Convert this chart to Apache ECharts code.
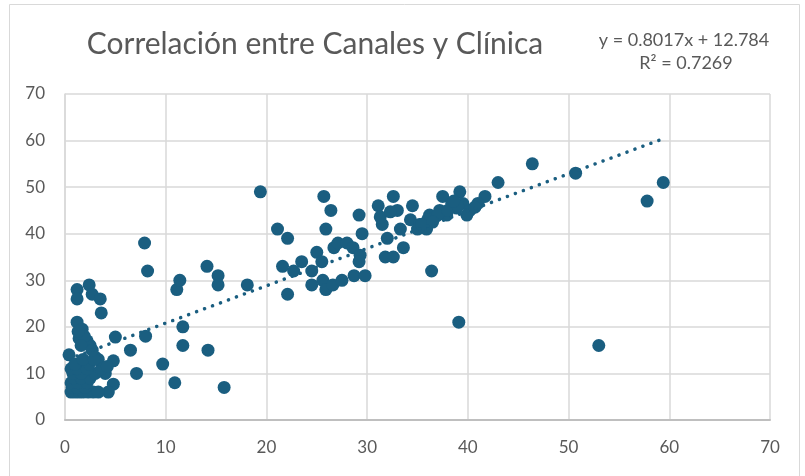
<!DOCTYPE html>
<html>
<head>
<meta charset="utf-8">
<script src="https://cdn.jsdelivr.net/npm/echarts@6/dist/echarts.min.js"></script>
<style>
  html, body { margin: 0; padding: 0; background: #fff; }
  #chart { width: 805px; height: 476px; }
</style>
</head>
<body>
<div id="chart"></div>
<script>
// valores (Canales = x, Clínica = y)
const canales = [
  0.4, 1.2, 2.4, 1.2, 2.7, 3.5, 3.6, 1.2, 1.7, 1.5, 2.2, 2.5, 5.0, 3.0, 4.8, 4.0, 4.8, 4.3,
  0.6, 1.0, 1.4, 1.8, 2.3, 2.8, 3.3, 0.7, 1.2, 2.0, 0.6, 1.3, 2.2, 0.9, 1.6, 2.5, 0.8, 1.6,
  3.0, 0.6, 1.2, 2.2, 3.6, 1.0, 2.4, 1.8, 3.3, 4.2, 2.9, 1.4, 1.9, 1.3, 1.6, 2.7,
  6.5, 8.0, 8.2, 7.1, 9.7, 10.9, 11.7, 11.7, 14.2, 15.8, 11.1, 11.4, 14.1, 15.2, 15.2, 18.1, 7.9,
  19.4, 21.1, 22.1, 21.6, 22.1, 22.7, 23.5, 24.5, 25.0, 25.5, 24.5, 25.7, 26.4, 25.9, 25.6, 25.9,
  26.7, 27.1, 28.0, 28.6, 29.3, 29.2, 26.6, 27.5, 28.7, 29.8, 29.2, 29.5,
  32.6, 31.1, 31.5, 33.0, 33.3, 32.0, 31.8, 32.6, 33.6, 34.5, 34.3, 35.6, 35.9, 36.2, 37.2,
  37.5, 39.2, 38.4, 39.5, 40.2, 39.9, 41.7, 41.0, 35.2, 36.7, 37.9, 38.9, 40.7, 31.3, 32.3,
  35.0, 36.0, 37.0, 38.0, 39.0, 35.4, 36.5, 38.6,
  36.4, 39.1, 43.0, 46.4, 50.7, 59.4, 57.8, 53.0
];
const clinica = [
  14, 28, 29, 26, 27, 26, 23, 21, 19.5, 17.6, 17, 16, 17.8, 13.5, 12.7, 10, 7.7, 6,
  6, 6, 6, 6, 6, 6, 6, 7, 7, 7, 8, 8, 8, 9, 9, 9, 10, 10,
  10, 11, 11, 11, 11, 12, 12, 13, 13, 11.5, 13, 17.5, 18, 19, 16, 15,
  15, 18, 32, 10, 12, 8, 20, 16, 15, 7, 28, 30, 33, 31, 29, 29, 38,
  49, 41, 39, 33, 27, 32, 34, 32, 36, 34, 29, 48, 45, 41, 30, 28,
  37, 38, 38, 37, 35.4, 34, 29, 30, 31, 31, 44, 40,
  48, 46, 42, 45, 41, 39, 35, 35, 37, 46, 43, 42, 41, 44, 45,
  48, 49, 46.5, 46.5, 45, 44, 48, 46.5, 42, 43.5, 44, 45.5, 45.7, 43.6, 44.7,
  41, 43, 44, 45, 46, 42, 42.5, 47,
  32, 21, 51, 55, 53, 51, 47, 16
];

// línea de tendencia de Excel (de la etiqueta)
const pendiente = 0.8017;
const intercepto = 12.784;
const r2 = 0.7269;

const xTicks = [0, 10, 20, 30, 40, 50, 60, 70];
const yTicks = [0, 10, 20, 30, 40, 50, 60, 70];

const puntos = canales.map((x, i) => [x, clinica[i]]);
const xMin = Math.min(...canales);
const xMax = Math.max(...canales);
const tendencia = [
  [xMin, pendiente * xMin + intercepto],
  [xMax, pendiente * xMax + intercepto]
];

const azul = '#1a5e80';
const gris = '#595959';

const chart = echarts.init(document.getElementById('chart'));
chart.setOption({
  animation: false,
  backgroundColor: '#fff',
  textStyle: { fontFamily: 'Lato' },
  title: {
    text: 'Correlación entre Canales y Clínica',
    left: 310,
    top: 24,
    textAlign: 'center',
    textStyle: { fontFamily: 'Lato', fontWeight: 'normal', fontSize: 30, color: gris }
  },
  graphic: [
    {
      type: 'rect',
      shape: { x: 9.5, y: 4.5, width: 790, height: 480 },
      style: { fill: 'none', stroke: '#d9d9d9', lineWidth: 1 },
      silent: true
    },
    {
      type: 'text',
      x: 684,
      y: 40,
      style: {
        text: 'y = ' + pendiente + 'x + ' + intercepto,
        font: '18px Lato', fill: gris, align: 'center', verticalAlign: 'middle'
      }
    },
    {
      type: 'text',
      x: 686,
      y: 63,
      style: {
        text: 'R² = ' + r2,
        font: '18px Lato', fill: gris, align: 'center', verticalAlign: 'middle'
      }
    }
  ],
  grid: { left: 65, right: 35, top: 94, bottom: 56, containLabel: false },
  xAxis: {
    type: 'value',
    min: xTicks[0],
    max: xTicks[xTicks.length - 1],
    interval: 10,
    axisLine: { show: true, lineStyle: { color: '#bfbfbf', width: 2 } },
    axisTick: { show: false },
    axisLabel: { color: gris, fontSize: 17, margin: 19, fontFamily: 'Lato' },
    splitLine: { show: true, lineStyle: { color: '#d9d9d9', width: 1.5 } }
  },
  yAxis: {
    type: 'value',
    min: yTicks[0],
    max: yTicks[yTicks.length - 1],
    interval: 10,
    axisLine: { show: true, lineStyle: { color: '#d9d9d9', width: 1.5 } },
    axisTick: { show: false },
    axisLabel: { color: gris, fontSize: 17, margin: 20, fontFamily: 'Lato' },
    splitLine: { show: true, lineStyle: { color: '#d9d9d9', width: 1.5 } }
  },
  series: [
    {
      type: 'scatter',
      data: puntos,
      symbolSize: 13,
      itemStyle: { color: azul, opacity: 1 },
      z: 2
    },
    {
      type: 'line',
      data: tendencia,
      showSymbol: false,
      symbol: 'none',
      lineStyle: { color: azul, width: 3.5, type: [0.1, 8.4], cap: 'round' },
      z: 3
    }
  ]
});
</script>
</body>
</html>
